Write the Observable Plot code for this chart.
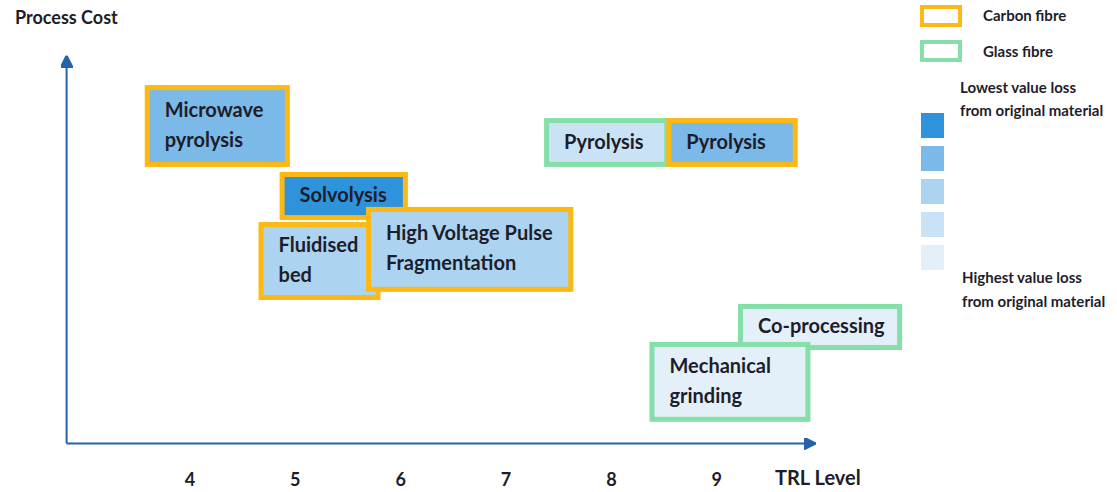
<!DOCTYPE html>
<html><head><meta charset="utf-8">
<script src="https://cdn.jsdelivr.net/npm/d3@7"></script>
<script src="https://cdn.jsdelivr.net/npm/@observablehq/plot@0.6"></script>
<style>
body{margin:0;background:#fff;font-family:Lato,"Open Sans",sans-serif;}
#wrap{position:relative;width:1117px;height:492px;overflow:hidden}
.t{position:absolute;font-weight:700;color:#1d1d2b;white-space:nowrap}
.lgbox{position:absolute;width:34px;height:14px;border:4px solid;background:#fff}
.sq{position:absolute;width:23px;height:25px}
</style></head><body><div id="wrap"></div>
<script>
// Data
const processes = ["Microwave\npyrolysis","Solvolysis","Fluidised\nbed","High Voltage Pulse\nFragmentation","Pyrolysis","Pyrolysis","Co-processing","Mechanical\ngrinding"];
const fibre     = ["Carbon fibre","Carbon fibre","Carbon fibre","Carbon fibre","Glass fibre","Carbon fibre","Glass fibre","Glass fibre"];
const trlStart  = [3.60, 4.88, 4.68, 5.70, 7.39, 8.55, 9.23, 8.39];
const trlEnd    = [4.93, 6.05, 5.79, 7.62, 8.53, 9.75, 10.74, 9.87];
const costLow   = [7.18, 5.81, 3.75, 3.96, 7.18, 7.18, 2.46, 0.61];
const costHigh  = [9.16, 6.92, 5.63, 6.02, 8.31, 8.31, 3.52, 2.54];
const valueLoss = [2, 1, 3, 3, 4, 2, 5, 5]; // 1 = lowest value loss, 5 = highest
const trlTicks  = [4, 5, 6, 7, 8, 9];
const trlAxisExtent  = [2.83, 9.94];
const costAxisExtent = [0, 10];

const fibreNames  = ["Carbon fibre", "Glass fibre"];
const fibreColors = ["#fdb913", "#84dfa8"];
const lossLevels  = [1, 2, 3, 4, 5];
const lossColors  = ["#2f93dc", "#7bb9e8", "#acd3f0", "#cae2f5", "#e3f0fa"];
const axisColor = "#2563a9";

function arrowHead(color, context) {
  const m = d3.create("svg:marker")
    .attr("viewBox", "-12 -6 12 12")
    .attr("markerWidth", 6).attr("markerHeight", 6)
    .attr("orient", "auto")
    .attr("fill", axisColor);
  m.append("path").attr("d", "M-12,-6L0,0L-12,6Z");
  return m.node();
}

const idx = processes.map((_, i) => i);
const fillOf = new Map(lossLevels.map((l, i) => [l, lossColors[i]]));
const strokeOf = new Map(fibreNames.map((f, i) => [f, fibreColors[i]]));

const chart = Plot.plot({
  width: 1117, height: 492,
  marginLeft: 84, marginRight: 190, marginTop: 55, marginBottom: 49,
  x: {domain: [3, 11], ticks: trlTicks},
  y: {domain: [0, 10], axis: null},
  style: {fontFamily: "Lato, 'Open Sans', sans-serif", background: "#fff"},
  marks: [
    Plot.axisX(trlTicks, {tickSize: 0, tickPadding: 30, fontSize: 18, fontWeight: 700, fill: "#1d1d2b", label: null, tickFormat: d => `${d}`}),
    Plot.link([0], {x1: trlAxisExtent[0], x2: trlAxisExtent[1], y1: costAxisExtent[0], y2: costAxisExtent[0], stroke: axisColor, strokeWidth: 2, markerEnd: arrowHead}),
    Plot.link([0], {x1: trlAxisExtent[0], x2: trlAxisExtent[0], y1: costAxisExtent[0], y2: costAxisExtent[1], stroke: axisColor, strokeWidth: 2, markerEnd: arrowHead}),
    Plot.rect(idx, {
      x1: i => trlStart[i], x2: i => trlEnd[i], y1: i => costLow[i], y2: i => costHigh[i],
      fill: i => fillOf.get(valueLoss[i]), stroke: i => strokeOf.get(fibre[i]), strokeWidth: 5
    }),
    Plot.text(idx, {
      x: i => trlStart[i], y: i => (costLow[i] + costHigh[i]) / 2, text: i => processes[i],
      dx: 17, dy: -4, textAnchor: "start", lineAnchor: "middle", lineHeight: 1.5,
      fontSize: 20, fontWeight: 700, fill: "#1d1d2b"
    })
  ]
});

const wrap = document.getElementById("wrap");
wrap.appendChild(chart);

function addDiv(cls, css, text) {
  const d = document.createElement("div");
  d.className = cls;
  d.style.cssText = css;
  if (text) d.innerHTML = text;
  wrap.appendChild(d);
  return d;
}
addDiv("t", "left:15px;top:6px;font-size:18px;", "Process Cost");
addDiv("t", "left:775px;top:465px;font-size:20px;", "TRL Level");
fibreNames.forEach((f, i) => {
  addDiv("lgbox", `left:920px;top:${5 + i * 35}px;border-color:${fibreColors[i]}`);
  addDiv("t", `left:983px;top:${6 + i * 36}px;font-size:15px;`, f);
});
addDiv("t", "left:960px;top:76px;font-size:15px;line-height:23px;", "Lowest value loss<br>from original material");
lossColors.forEach((c, i) => {
  addDiv("sq", `left:921px;top:${113 + i * 33}px;background:${c}`);
});
addDiv("t", "left:962px;top:265px;font-size:15px;line-height:24px;", "Highest value loss<br>from original material");
</script></body></html>
